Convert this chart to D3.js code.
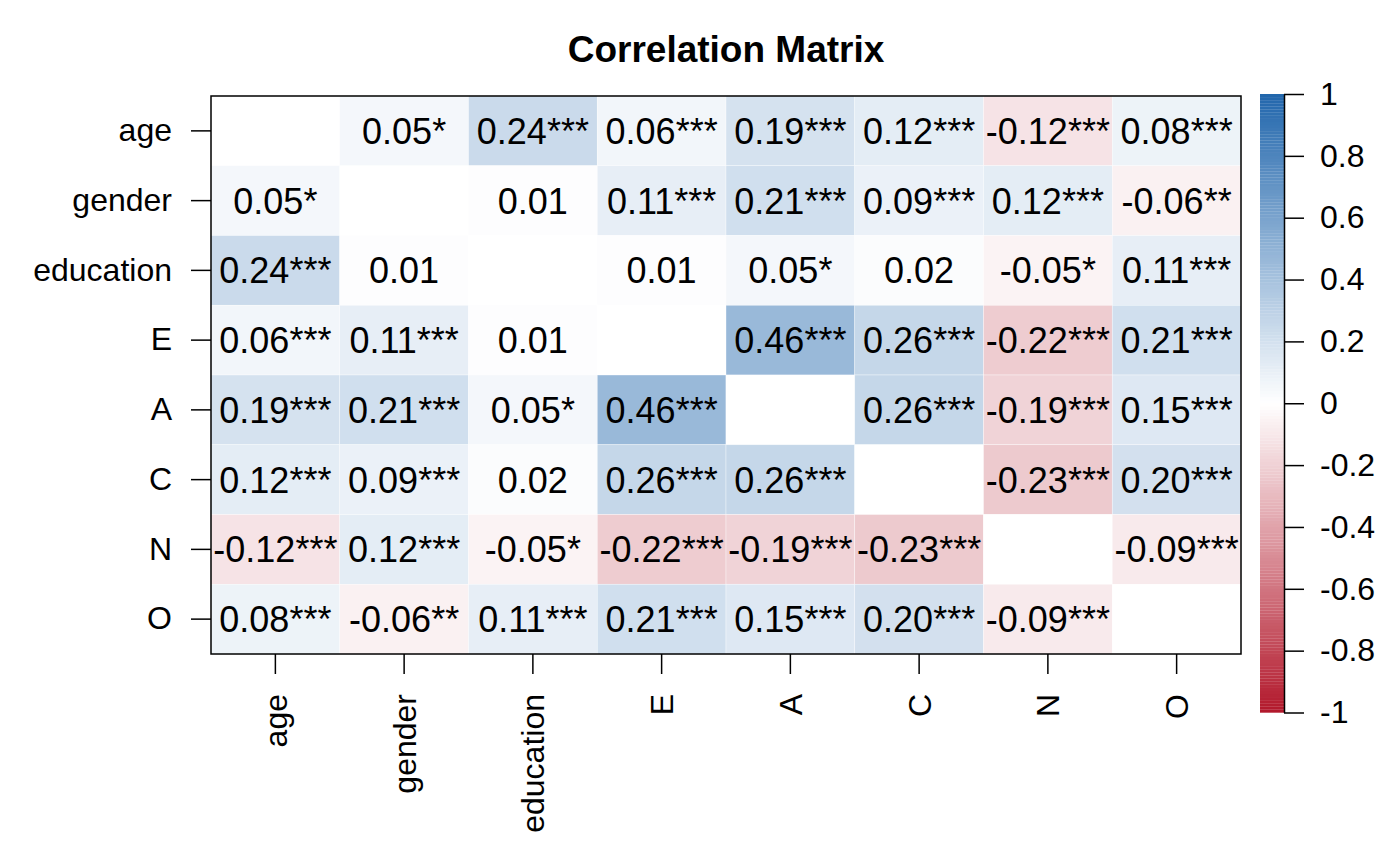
<!DOCTYPE html>
<html>
<head>
<meta charset="utf-8">
<script src="https://cdn.jsdelivr.net/npm/d3@7"></script>
<style>
  html, body { margin: 0; padding: 0; background: #fff; }
  svg { display: block; font-family: Arial, "Liberation Sans", sans-serif; }
</style>
</head>
<body>
<svg id="chart" width="1400" height="866"></svg>
<script>
// ---- data ----
const variables = ["age", "gender", "education", "E", "A", "C", "N", "O"];

// correlation values per row (null on the diagonal)
const rowAge       = [null, 0.05, 0.24, 0.06, 0.19, 0.12, -0.12, 0.08];
const rowGender    = [0.05, null, 0.01, 0.11, 0.21, 0.09, 0.12, -0.06];
const rowEducation = [0.24, 0.01, null, 0.01, 0.05, 0.02, -0.05, 0.11];
const rowE         = [0.06, 0.11, 0.01, null, 0.46, 0.26, -0.22, 0.21];
const rowA         = [0.19, 0.21, 0.05, 0.46, null, 0.26, -0.19, 0.15];
const rowC         = [0.12, 0.09, 0.02, 0.26, 0.26, null, -0.23, 0.20];
const rowN         = [-0.12, 0.12, -0.05, -0.22, -0.19, -0.23, null, -0.09];
const rowO         = [0.08, -0.06, 0.11, 0.21, 0.15, 0.20, -0.09, null];

// significance stars per row
const starsAge       = ["", "*", "***", "***", "***", "***", "***", "***"];
const starsGender    = ["*", "", "", "***", "***", "***", "***", "**"];
const starsEducation = ["***", "", "", "", "*", "", "*", "***"];
const starsE         = ["***", "***", "", "", "***", "***", "***", "***"];
const starsA         = ["***", "***", "*", "***", "", "***", "***", "***"];
const starsC         = ["***", "***", "", "***", "***", "", "***", "***"];
const starsN         = ["***", "***", "*", "***", "***", "***", "", "***"];
const starsO         = ["***", "**", "***", "***", "***", "***", "***", ""];

const colorbarTicks = [1, 0.8, 0.6, 0.4, 0.2, 0, -0.2, -0.4, -0.6, -0.8, -1];
const chartTitle = "Correlation Matrix";

const corrRows = [rowAge, rowGender, rowEducation, rowE, rowA, rowC, rowN, rowO];
const starRows = [starsAge, starsGender, starsEducation, starsE, starsA, starsC, starsN, starsO];

// ---- drawing ----
const svg = d3.select("#chart");
const plot = { left: 211, right: 1241, top: 96, bottom: 654 };

const x = d3.scaleBand().domain(variables).range([plot.left, plot.right]);
const y = d3.scaleBand().domain(variables).range([plot.top, plot.bottom]);

const posColor = d3.interpolateRgb("#FFFFFF", "#2166AC");
const negColor = d3.interpolateRgb("#FFFFFF", "#B2182B");
const color = v => v >= 0 ? posColor(v) : negColor(-v);

const cells = [];
corrRows.forEach((row, i) => row.forEach((v, j) => {
  cells.push({ row: variables[i], col: variables[j], value: v, stars: starRows[i][j] });
}));

const g = svg.append("g");
g.selectAll("rect.cell").data(cells).join("rect")
  .attr("class", "cell")
  .attr("x", d => x(d.col))
  .attr("y", d => y(d.row))
  .attr("width", x.bandwidth())
  .attr("height", y.bandwidth())
  .attr("fill", d => d.value === null ? "#FFFFFF" : color(d.value))
  .attr("stroke", "#FFFFFF")
  .attr("stroke-opacity", 0.6)
  .attr("stroke-width", 0.6);

g.selectAll("text.num").data(cells.filter(d => d.value !== null)).join("text")
  .attr("class", "num")
  .attr("x", d => x(d.col) + x.bandwidth() / 2)
  .attr("y", d => y(d.row) + y.bandwidth() / 2)
  .attr("dy", "0.36em")
  .attr("text-anchor", "middle")
  .attr("font-size", 36)
  .attr("fill", "#000")
  .text(d => d.value.toFixed(2).replace("\u2212", "-") + d.stars);

// plot border
svg.append("rect")
  .attr("x", plot.left).attr("y", plot.top)
  .attr("width", plot.right - plot.left).attr("height", plot.bottom - plot.top)
  .attr("fill", "none").attr("stroke", "#000").attr("stroke-width", 1.5);

// y axis
const yAxis = svg.append("g")
  .attr("transform", `translate(${plot.left},0)`)
  .call(d3.axisLeft(y).tickSize(20).tickPadding(19).tickSizeOuter(0));
yAxis.select(".domain").remove();
yAxis.selectAll("line").attr("stroke", "#000").attr("stroke-width", 1.5);
yAxis.selectAll("text").attr("font-size", 32).attr("font-family", "Arial, 'Liberation Sans', sans-serif").attr("fill", "#000");

// x axis
const xAxis = svg.append("g")
  .attr("transform", `translate(0,${plot.bottom})`)
  .call(d3.axisBottom(x).tickSize(20).tickSizeOuter(0));
xAxis.select(".domain").remove();
xAxis.selectAll("line").attr("stroke", "#000").attr("stroke-width", 1.5);
xAxis.selectAll("text")
  .attr("font-size", 32).attr("font-family", "Arial, 'Liberation Sans', sans-serif").attr("fill", "#000")
  .attr("transform", "rotate(-90)")
  .attr("x", -40).attr("y", 0).attr("dy", "0.36em")
  .attr("text-anchor", "end");

// colorbar
const cb = { left: 1260, right: 1284 };
const cbScale = d3.scaleLinear().domain([-1, 1]).range([712.5, 94]);
const nSteps = 200;
const stepVals = d3.range(nSteps).map(k => -1 + (k + 0.5) * 2 / nSteps);
const stepH = Math.abs(cbScale(1) - cbScale(-1)) / nSteps;
svg.append("g").selectAll("rect").data(stepVals).join("rect")
  .attr("x", cb.left)
  .attr("y", v => cbScale(v) - stepH / 2)
  .attr("width", cb.right - cb.left)
  .attr("height", stepH + 0.2)
  .attr("fill", v => color(v));

const cbAxis = svg.append("g")
  .attr("transform", `translate(${cb.right},0)`)
  .call(d3.axisRight(cbScale).tickValues(colorbarTicks).tickSize(20).tickPadding(16).tickSizeOuter(0)
    .tickFormat(v => String(+v.toFixed(1)).replace("\u2212", "-")));
cbAxis.select(".domain").attr("stroke", "#000").attr("stroke-width", 1.5);
cbAxis.selectAll("line").attr("stroke", "#000").attr("stroke-width", 1.5);
cbAxis.selectAll("text").attr("font-size", 32).attr("font-family", "Arial, 'Liberation Sans', sans-serif").attr("fill", "#000");

// title
svg.append("text")
  .attr("x", (plot.left + plot.right) / 2)
  .attr("y", 62)
  .attr("text-anchor", "middle")
  .attr("font-size", 37)
  .attr("font-weight", "bold")
  .attr("fill", "#000")
  .text(chartTitle);
</script>
</body>
</html>
